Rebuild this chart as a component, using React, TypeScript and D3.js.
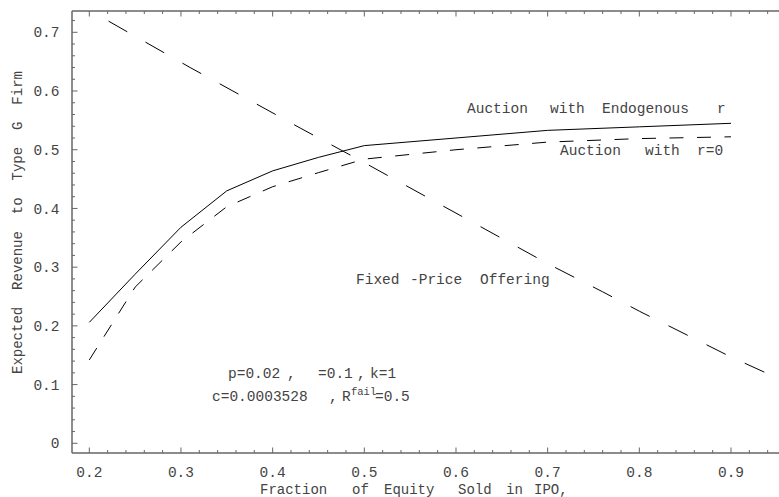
import React from 'react';
import * as d3 from 'd3';

// ---- data ----
const xValues = [0.2, 0.25, 0.3, 0.35, 0.4, 0.45, 0.5, 0.6, 0.7, 0.8, 0.9];
const auctionEndogenous = [0.206, 0.288, 0.368, 0.43, 0.464, 0.487, 0.507, 0.52, 0.533, 0.539, 0.545];
const auctionR0 = [0.142, 0.266, 0.343, 0.403, 0.437, 0.461, 0.484, 0.5, 0.513, 0.519, 0.522];
const fixedX = [0.221, 0.31, 0.43, 0.5, 0.6, 0.7, 0.76, 0.8, 0.9, 0.955];
const fixedPrice = [0.719, 0.64, 0.537, 0.478, 0.392, 0.306, 0.258, 0.225, 0.147, 0.108];

const xTickValues = [0.2, 0.3, 0.4, 0.5, 0.6, 0.7, 0.8, 0.9];
const yTickValues = [0, 0.1, 0.2, 0.3, 0.4, 0.5, 0.6, 0.7];
const yTickLabels = ['0', '0.1', '0.2', '0.3', '0.4', '0.5', '0.6', '0.7'];
const xTickLabels = ['0.2', '0.3', '0.4', '0.5', '0.6', '0.7', '0.8', '0.9'];

const W = 779;
const H = 497;
const frameLeft = 72;
const frameTop = 11;
const frameBottom = 453;

const FONT = "'Courier New', 'Liberation Mono', monospace";
const TXT = '#444';
const AX = '#666';

export default function App() {
  const x = d3.scaleLinear().domain([0.2, 0.9]).range([89.3, 731]);
  const y = d3.scaleLinear().domain([0, 0.7]).range([443.3, 32.3]);

  const line = d3
    .line<[number, number]>()
    .x((d) => x(d[0]))
    .y((d) => y(d[1]));

  const endoPath = line(xValues.map((v, i) => [v, auctionEndogenous[i]]) as [number, number][]) || '';
  const r0Path = line(xValues.map((v, i) => [v, auctionR0[i]]) as [number, number][]) || '';
  const fixedPath = line(fixedX.map((v, i) => [v, fixedPrice[i]]) as [number, number][]) || '';

  const xMinor = d3.range(0.2, 0.96, 0.02).map((v) => +v.toFixed(2));
  const yMinor = d3.range(0, 0.73, 0.02).map((v) => +v.toFixed(2));
  const isMajor = (v: number) => Math.abs(v * 10 - Math.round(v * 10)) < 1e-6;

  return (
    <svg
      width={W}
      height={H}
      style={{ position: 'absolute', left: 0, top: 0, background: '#fff' }}
      fontFamily={FONT}
    >
      <rect x={0} y={0} width={W} height={H} fill="#fff" />
      {/* frame */}
      <line x1={frameLeft} y1={frameTop} x2={frameLeft} y2={frameBottom} stroke={AX} strokeWidth={1.5} />
      <line x1={frameLeft} y1={frameTop} x2={W} y2={frameTop} stroke={AX} strokeWidth={1.5} />
      <line x1={frameLeft} y1={frameBottom} x2={W} y2={frameBottom} stroke={AX} strokeWidth={1.5} />

      {/* x ticks bottom & top */}
      {xMinor.map((v) => {
        const len = isMajor(v) ? 5.5 : 3;
        return (
          <g key={'xt' + v}>
            <line x1={x(v)} x2={x(v)} y1={frameBottom} y2={frameBottom - len} stroke={AX} strokeWidth={1} />
            <line x1={x(v)} x2={x(v)} y1={frameTop} y2={frameTop + len} stroke={AX} strokeWidth={1} />
          </g>
        );
      })}
      {/* y ticks */}
      {yMinor.map((v) => {
        const len = isMajor(v) ? 5.5 : 3;
        return <line key={'yt' + v} x1={frameLeft} x2={frameLeft + len} y1={y(v)} y2={y(v)} stroke={AX} strokeWidth={1} />;
      })}

      {/* tick labels */}
      {xTickValues.map((v, i) => (
        <text key={'xl' + v} x={x(v)} y={477} textAnchor="middle" fontSize={14.5} fill={TXT}>
          {xTickLabels[i]}
        </text>
      ))}
      {yTickValues.map((v, i) => (
        <text key={'yl' + v} x={59.5} y={y(v)} dy="0.35em" textAnchor="end" fontSize={14.5} fill={TXT}>
          {yTickLabels[i]}
        </text>
      ))}

      {/* axis titles */}
      <text y={494} fontSize={14} fill={TXT}>
        <tspan x={260}>Fraction</tspan>
        <tspan x={352}>of</tspan>
        <tspan x={384}>Equity</tspan>
        <tspan x={458}>Sold</tspan>
        <tspan x={506}>in</tspan>
        <tspan x={534}>IPO,</tspan>
      </text>
      <text
        transform="rotate(-90)"
        x={-374}
        y={21.5}
        fontSize={14}
        fill={TXT}
        style={{ wordSpacing: '8.5px' }}
      >
        Expected Revenue to Type G Firm
      </text>

      {/* curves */}
      <path d={endoPath} fill="none" stroke="#000" strokeWidth={1} />
      <path d={r0Path} fill="none" stroke="#000" strokeWidth={1} strokeDasharray="14 13.5" />
      <path d={fixedPath} fill="none" stroke="#000" strokeWidth={1} strokeDasharray="21.5 21" />

      {/* annotations */}
      <text y={113} fontSize={14.5} fill={TXT}>
        <tspan x={467}>Auction</tspan>
        <tspan x={550}>with</tspan>
        <tspan x={602}>Endogenous</tspan>
        <tspan x={717}>r</tspan>
      </text>
      <text y={155} fontSize={14.5} fill={TXT}>
        <tspan x={560}>Auction</tspan>
        <tspan x={645}>with</tspan>
        <tspan x={697}>r=0</tspan>
      </text>
      <text y={284} fontSize={14.5} fill={TXT}>
        <tspan x={356}>Fixed</tspan>
        <tspan x={410}>-Price</tspan>
        <tspan x={480}>Offering</tspan>
      </text>
      <text y={378} fontSize={14.5} fill={TXT}>
        <tspan x={228}>p=0.02</tspan>
        <tspan x={287}>,</tspan>
        <tspan x={318}>=0.1</tspan>
        <tspan x={357}>,</tspan>
        <tspan x={370}>k=1</tspan>
      </text>
      <text y={401} fontSize={14.5} fill={TXT}>
        <tspan x={212}>c=0.0003528</tspan>
        <tspan x={329}>,</tspan>
        <tspan x={342}>R</tspan>
        <tspan x={351} dy={-6} fontSize={10.5}>fail</tspan>
        <tspan x={375} dy={6}>=0.5</tspan>
      </text>
    </svg>
  );
}
